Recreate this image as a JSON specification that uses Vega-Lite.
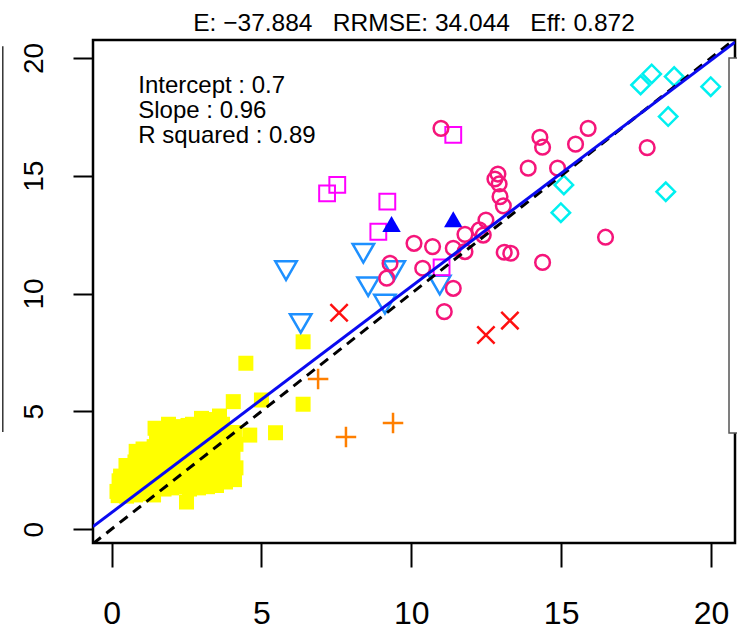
{
  "$schema": "https://vega.github.io/schema/vega-lite/v6.json",
  "width": 642,
  "height": 503,
  "autosize": {"type": "none"},
  "padding": {"left": 93, "top": 40, "right": 2, "bottom": 86},
  "background": "white",
  "config": {
    "view": {"stroke": "black", "strokeWidth": 2.5},
    "font": "Liberation Sans"
  },
  "title": {
    "text": "E: −37.884\u00a0\u00a0\u00a0RRMSE: 34.044\u00a0\u00a0\u00a0Eff: 0.872",
    "font": "Liberation Sans",
    "fontSize": 24.5,
    "fontWeight": "normal",
    "color": "black",
    "anchor": "middle",
    "frame": "group",
    "baseline": "alphabetic",
    "offset": -15
  },
  "datasets": {
    "pts": [
      {"g":"A","x":0.22,"y":1.42},{"g":"A","x":0.28,"y":1.75},{"g":"A","x":0.25,"y":2.05},{"g":"A","x":0.3,"y":2.25},{"g":"A","x":0.18,"y":1.6},
      {"g":"A","x":0.5,"y":1.4},{"g":"A","x":0.45,"y":1.85},{"g":"A","x":0.55,"y":2.3},{"g":"A","x":0.48,"y":2.7},{"g":"A","x":0.6,"y":1.6},{"g":"A","x":0.62,"y":2.05},
      {"g":"A","x":0.8,"y":1.45},{"g":"A","x":0.75,"y":1.9},{"g":"A","x":0.85,"y":2.4},{"g":"A","x":0.78,"y":2.85},{"g":"A","x":0.82,"y":3.3},{"g":"A","x":0.9,"y":1.7},
      {"g":"A","x":1.05,"y":1.5},{"g":"A","x":1.1,"y":2.0},{"g":"A","x":1.0,"y":2.55},{"g":"A","x":1.15,"y":3.0},{"g":"A","x":1.05,"y":3.4},{"g":"A","x":1.2,"y":1.75},{"g":"A","x":1.22,"y":2.3},{"g":"A","x":1.18,"y":2.75},
      {"g":"A","x":1.45,"y":4.28},{"g":"A","x":1.4,"y":1.45},{"g":"A","x":1.5,"y":1.9},{"g":"A","x":1.45,"y":2.45},{"g":"A","x":1.55,"y":2.95},{"g":"A","x":1.42,"y":3.5},{"g":"A","x":1.5,"y":3.85},
      {"g":"A","x":1.75,"y":1.7},{"g":"A","x":1.7,"y":2.2},{"g":"A","x":1.8,"y":2.6},{"g":"A","x":1.72,"y":3.15},{"g":"A","x":1.78,"y":3.6},{"g":"A","x":1.85,"y":3.95},{"g":"A","x":1.9,"y":4.45},
      {"g":"A","x":2.0,"y":1.75},{"g":"A","x":2.05,"y":2.2},{"g":"A","x":1.98,"y":2.7},{"g":"A","x":2.08,"y":3.2},{"g":"A","x":2.0,"y":3.65},{"g":"A","x":2.1,"y":4.1},{"g":"A","x":2.15,"y":4.35},
      {"g":"A","x":2.3,"y":1.8},{"g":"A","x":2.35,"y":2.3},{"g":"A","x":2.25,"y":2.8},{"g":"A","x":2.4,"y":3.3},{"g":"A","x":2.3,"y":3.75},{"g":"A","x":2.35,"y":4.2},{"g":"A","x":2.5,"y":1.15},{"g":"A","x":2.55,"y":4.4},
      {"g":"A","x":2.6,"y":1.7},{"g":"A","x":2.65,"y":2.15},{"g":"A","x":2.6,"y":2.6},{"g":"A","x":2.7,"y":3.05},{"g":"A","x":2.62,"y":3.5},{"g":"A","x":2.72,"y":3.95},{"g":"A","x":2.7,"y":4.45},
      {"g":"A","x":2.9,"y":1.75},{"g":"A","x":2.95,"y":2.25},{"g":"A","x":2.85,"y":2.75},{"g":"A","x":3.0,"y":3.25},{"g":"A","x":2.9,"y":3.7},{"g":"A","x":3.0,"y":4.2},{"g":"A","x":3.0,"y":4.7},
      {"g":"A","x":3.2,"y":1.8},{"g":"A","x":3.25,"y":2.3},{"g":"A","x":3.15,"y":2.8},{"g":"A","x":3.3,"y":3.3},{"g":"A","x":3.2,"y":3.8},{"g":"A","x":3.3,"y":4.3},{"g":"A","x":3.25,"y":4.65},
      {"g":"A","x":3.5,"y":1.85},{"g":"A","x":3.55,"y":2.35},{"g":"A","x":3.45,"y":2.9},{"g":"A","x":3.6,"y":3.4},{"g":"A","x":3.5,"y":3.9},{"g":"A","x":3.55,"y":4.35},{"g":"A","x":3.6,"y":4.8},
      {"g":"A","x":3.8,"y":2.0},{"g":"A","x":3.85,"y":2.5},{"g":"A","x":3.75,"y":3.0},{"g":"A","x":3.9,"y":3.5},{"g":"A","x":3.8,"y":4.0},{"g":"A","x":3.7,"y":4.45},
      {"g":"A","x":4.1,"y":2.1},{"g":"A","x":4.15,"y":2.6},{"g":"A","x":4.05,"y":3.1},{"g":"A","x":4.15,"y":3.6},{"g":"A","x":4.1,"y":4.1},{"g":"A","x":4.06,"y":5.41},
      {"g":"A","x":4.48,"y":7.04},{"g":"A","x":6.39,"y":7.95},{"g":"A","x":6.39,"y":5.3},{"g":"A","x":5.47,"y":4.09},{"g":"A","x":5.0,"y":5.48},{"g":"A","x":4.61,"y":3.99},
      {"g":"B","x":6.89,"y":6.37},{"g":"B","x":7.82,"y":3.91},{"g":"B","x":9.39,"y":4.5},
      {"g":"C","x":7.59,"y":9.18},{"g":"C","x":12.49,"y":8.24},{"g":"C","x":13.29,"y":8.85},
      {"g":"D","x":5.82,"y":10.97},{"g":"D","x":8.4,"y":11.71},{"g":"D","x":8.56,"y":10.29},{"g":"D","x":9.43,"y":10.97},{"g":"D","x":9.12,"y":9.55},{"g":"D","x":6.31,"y":8.73},{"g":"D","x":10.95,"y":10.36},
      {"g":"E","x":7.19,"y":14.25},{"g":"E","x":7.53,"y":14.61},{"g":"E","x":9.2,"y":13.9},{"g":"E","x":8.9,"y":12.62},{"g":"E","x":11.01,"y":11.11},{"g":"E","x":11.4,"y":16.73},
      {"g":"F","x":9.34,"y":12.95},{"g":"F","x":11.4,"y":13.15},
      {"g":"G","x":10.99,"y":17.01},{"g":"G","x":14.29,"y":16.63},{"g":"G","x":14.38,"y":16.21},{"g":"G","x":15.9,"y":17.01},{"g":"G","x":15.48,"y":16.34},{"g":"G","x":13.9,"y":15.32},{"g":"G","x":14.88,"y":15.32},{"g":"G","x":12.89,"y":15.07},{"g":"G","x":12.79,"y":14.86},{"g":"G","x":12.93,"y":14.65},{"g":"G","x":12.96,"y":14.11},{"g":"G","x":13.07,"y":13.72},{"g":"G","x":12.49,"y":13.12},{"g":"G","x":12.27,"y":12.7},{"g":"G","x":12.4,"y":12.48},{"g":"G","x":11.79,"y":12.51},{"g":"G","x":11.4,"y":11.92},{"g":"G","x":11.79,"y":11.78},{"g":"G","x":10.71,"y":11.99},{"g":"G","x":10.09,"y":12.13},{"g":"G","x":10.38,"y":11.07},{"g":"G","x":11.4,"y":10.22},{"g":"G","x":11.1,"y":9.23},{"g":"G","x":13.1,"y":11.75},{"g":"G","x":13.32,"y":11.71},{"g":"G","x":14.38,"y":11.32},{"g":"G","x":16.48,"y":12.39},{"g":"G","x":17.87,"y":16.19},{"g":"G","x":9.29,"y":11.28},{"g":"G","x":9.18,"y":10.65},
      {"g":"H","x":17.65,"y":18.85},{"g":"H","x":18.02,"y":19.32},{"g":"H","x":18.77,"y":19.21},{"g":"H","x":19.99,"y":18.78},{"g":"H","x":18.57,"y":17.51},{"g":"H","x":18.49,"y":14.32},{"g":"H","x":15.09,"y":14.61},{"g":"H","x":14.99,"y":13.43}
    ],
    "fit": [{"x": -0.62, "y": 0.105}, {"x": 20.8, "y": 20.668}],
    "oneone": [{"x": -0.62, "y": -0.62}, {"x": 20.8, "y": 20.8}],
    "stats": [{"x": 0.89, "y": 18.5}],
    "sidebox": [{"x": 20.6, "x2": 21.5, "y": 20.0, "y2": 4.08}],
    "leftline": [{"x": -3.63, "y": 20.5, "y2": 4.12}]
  },
  "encoding": {
    "x": {
      "field": "x", "type": "quantitative",
      "scale": {"domain": [-0.62, 20.8], "nice": false, "zero": false},
      "axis": {
        "values": [0, 5, 10, 15, 20], "domain": false, "grid": false, "title": null,
        "tickSize": 24, "tickWidth": 2, "tickColor": "black",
        "labelFont": "Liberation Sans", "labelFontSize": 32, "labelColor": "black",
        "labelBaseline": "alphabetic", "labelPadding": 56, "labelFlush": false, "labelOverlap": false
      }
    },
    "y": {
      "field": "y", "type": "quantitative",
      "scale": {"domain": [-0.59, 20.76], "nice": false, "zero": false},
      "axis": {
        "values": [0, 5, 10, 15, 20], "domain": false, "grid": false, "title": null,
        "tickSize": 20, "tickWidth": 2, "tickColor": "black",
        "labelFont": "Liberation Sans", "labelFontSize": 28, "labelColor": "black",
        "labelAngle": 270, "labelAlign": "center", "labelBaseline": "alphabetic",
        "labelPadding": 31, "labelFlush": false, "labelOverlap": false
      }
    }
  },
  "layer": [
    {
      "data": {"name": "pts"},
      "transform": [{"filter": "datum.g == 'A'"}],
      "mark": {"type": "point", "shape": "square", "filled": true, "color": "#FFFF00", "opacity": 1, "size": 225, "strokeWidth": 0}
    },
    {
      "data": {"name": "pts"},
      "transform": [{"filter": "datum.g == 'B'"}],
      "mark": {"type": "point", "shape": "M-1,0L1,0M0,-1L0,1", "filled": false, "color": "#FF7F00", "opacity": 1, "size": 420, "strokeWidth": 2.5}
    },
    {
      "data": {"name": "pts"},
      "transform": [{"filter": "datum.g == 'C'"}],
      "mark": {"type": "point", "shape": "M-1,-1L1,1M1,-1L-1,1", "filled": false, "color": "#FF1010", "opacity": 1, "size": 300, "strokeWidth": 2.5}
    },
    {
      "data": {"name": "pts"},
      "transform": [{"filter": "datum.g == 'D'"}],
      "mark": {"type": "point", "shape": "triangle-down", "filled": false, "color": "#1E90FF", "opacity": 1, "size": 460, "strokeWidth": 2.5}
    },
    {
      "data": {"name": "pts"},
      "transform": [{"filter": "datum.g == 'E'"}],
      "mark": {"type": "point", "shape": "square", "filled": false, "color": "#FF00FF", "opacity": 1, "size": 250, "strokeWidth": 2}
    },
    {
      "data": {"name": "pts"},
      "transform": [{"filter": "datum.g == 'F'"}],
      "mark": {"type": "point", "shape": "triangle-up", "filled": true, "color": "#0000FF", "opacity": 1, "size": 340, "strokeWidth": 0}
    },
    {
      "data": {"name": "pts"},
      "transform": [{"filter": "datum.g == 'G'"}],
      "mark": {"type": "point", "shape": "circle", "filled": false, "color": "#F5157A", "opacity": 1, "size": 215, "strokeWidth": 2.5}
    },
    {
      "data": {"name": "pts"},
      "transform": [{"filter": "datum.g == 'H'"}],
      "mark": {"type": "point", "shape": "diamond", "filled": false, "color": "#00F0F0", "opacity": 1, "size": 340, "strokeWidth": 2.5}
    },
    {
      "data": {"name": "oneone"},
      "mark": {"type": "line", "color": "black", "strokeWidth": 3, "strokeDash": [10, 7], "clip": true}
    },
    {
      "data": {"name": "fit"},
      "mark": {"type": "line", "color": "#0A0AF0", "strokeWidth": 3, "clip": true}
    },
    {
      "data": {"name": "stats"},
      "mark": {
        "type": "text", "text": ["Intercept : 0.7", "Slope : 0.96", "R squared : 0.89"],
        "font": "Liberation Sans", "fontSize": 24, "lineHeight": 25, "align": "left", "baseline": "alphabetic", "color": "black"
      }
    },
    {
      "data": {"name": "sidebox"},
      "mark": {"type": "rect", "fill": "white", "stroke": "#555555", "strokeWidth": 1.5, "clip": false},
      "encoding": {"x2": {"field": "x2"}, "y2": {"field": "y2"}}
    },
    {
      "data": {"name": "leftline"},
      "mark": {"type": "rule", "color": "#333333", "strokeWidth": 1.5, "clip": false},
      "encoding": {"y2": {"field": "y2"}}
    }
  ]
}
